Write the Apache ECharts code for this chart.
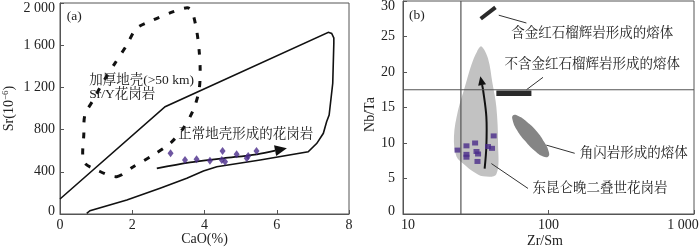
<!DOCTYPE html>
<html><head><meta charset="utf-8">
<script src="https://cdn.jsdelivr.net/npm/echarts@6/dist/echarts.min.js"></script>
<style>html,body{margin:0;padding:0;background:#fff}#c{width:700px;height:251px}</style>
</head><body><div id="c"></div>
<script>
// ---------- Panel (a): Sr vs CaO ----------
const caoTicks = [0, 2, 4, 6, 8];
const srTicks = [0, 400, 800, 1200, 1600, 2000];
const normalCrustOutline = [[0,142],[2.91,1017],[7.43,1722],[7.52,1711],[7.58,1668],[7.58,1618],[7.55,1239],[7.45,938],[7.38,875],[7.29,765],[7.11,670],[6.87,590],[5.54,512],[4.34,448],[3.97,408],[3.51,338],[2.77,244],[1.85,133],[0.83,31],[0.74,7]];
const thickCrustOutline = [[1.57,354],[2.03,448],[2.58,559],[3.05,670],[3.41,812],[3.69,986],[3.85,1175],[3.88,1365],[3.85,1555],[3.78,1744],[3.65,1925],[3.52,1955],[3.14,1918],[2.58,1839],[2.12,1760],[1.85,1602],[1.52,1428],[1.20,1254],[0.92,1081],[0.69,938],[0.66,765],[0.66,496],[1.02,417]];
const graniteA_CaO = [3.06,3.46,3.78,4.15,4.50,4.48,4.57,4.89,5.17,5.21,5.44];
const graniteA_Sr  = [575,512,518,505,597,512,496,566,528,550,597];
const trendA = [[2.68,433],[3.60,490],[4.52,528],[5.45,566],[6.28,623]];
const labelsA_text = ['(a)', '加厚地壳(>50 km)', 'Sr/Y花岗岩', '正常地壳形成的花岗岩'];
const labelsA_pos  = [[0.185,1870],[0.81,1270],[0.81,1135],[3.27,755]];

// ---------- Panel (b): Nb/Ta vs Zr/Sm ----------
const zrSmTicks = [10, 100, 1000];
const nbTaTicks = [0, 5, 10, 15, 20, 25, 30];
const refZrSm = 25;
const refNbTa = 17.5;
const eKunlunField = [[34.6,23.6],[38.4,21.9],[41.2,18.4],[43.8,15.1],[45.0,10.0],[43.8,5.6],[35.5,5.3],[30.3,6.0],[26.6,6.9],[23.3,8.1],[22.4,10.9],[23.9,14.6],[26.6,17.9],[29.5,21.0],[32.3,22.9]];
const amphiboliteField = [[99.7,8.1],[100.3,8.8],[93.7,10.1],[82.6,11.7],[70.9,13.0],[62.0,13.8],[57.1,13.9],[56.7,13.2],[60.8,11.8],[68.9,10.3],[80.3,8.9],[91.8,8.1]];
const rutileEclogiteBar = [[34.2,27.5],[43.2,29.1]];
const rutileFreeBar = [[43.8,17.0],[76.3,17.0]];
const graniteB_ZrSm = [23.7,27.3,31.3,27.3,27.3,32.0,32.8,32.5,38.4,40.9,42.0];
const graniteB_NbTa = [9.0,9.6,10.0,8.4,8.0,8.8,8.45,7.4,9.5,9.25,11.0];
const trendB = [[36.4,6.4],[37.4,9.5],[37.4,13.7],[35.5,17.5],[34.0,19.4]];
const leadersB = [[[45.5,28.0],[70.5,26.9]],[[70.5,17.5],[91.7,19.25]],[[96.7,9.7],[151.4,8.55]],[[40.5,7.1],[72.3,3.6]]];
const labelsB_text = ['(b)','含金红石榴辉岩形成的熔体','不含金红石榴辉岩形成的熔体','角闪岩形成的熔体','东昆仑晚二叠世花岗岩'];
const labelsB_pos  = [[11.0,28.0],[199.6,25.45],[199.6,21.1],[163.9,8.55],[77.5,3.6]];
const labelsB_align = ['left','center','center','left','left'];

const FONT = '"Liberation Serif","Noto Serif CJK SC","Noto Sans CJK SC",serif';
const AX = '#555';
const TXT = '#222';
const PURPLE = '#4a2c8a';

function sp(v){ return String(v).replace(/\B(?=(\d{3})+(?!\d))/g, ' '); }

function shapeItem(points, kind, style, smooth){
  return function(params, api){
    if (params.dataIndex !== 0) return null;
    const pts = points.map(p => api.coord(p));
    return { type: kind, shape: { points: pts, smooth: smooth || 0 }, style: style };
  };
}
function arrowItem(points, headLen, headW, lw){
  return function(params, api){
    if (params.dataIndex !== 0) return null;
    const pts = points.map(p => api.coord(p));
    const n = pts.length, tip = pts[n-1], prev = pts[n-2];
    let dx = tip[0]-prev[0], dy = tip[1]-prev[1];
    const L = Math.hypot(dx, dy); dx/=L; dy/=L;
    const base = [tip[0]-dx*headLen, tip[1]-dy*headLen];
    const px = -dy, py = dx;
    const body = pts.slice(0, n-1).concat([base]);
    return { type: 'group', children: [
      { type: 'polyline', shape: { points: body, smooth: 0.35 }, style: { fill: 'none', stroke: '#111', lineWidth: lw } },
      { type: 'polygon', shape: { points: [tip, [base[0]+px*headW/2, base[1]+py*headW/2], [base[0]-px*headW/2, base[1]-py*headW/2]] }, style: { fill: '#111' } }
    ]};
  };
}
function textItem(texts, aligns, size){
  return function(params, api){
    const c = api.coord([api.value(0), api.value(1)]);
    return { type: 'text', x: c[0], y: c[1], style: { text: texts[params.dataIndex], fontFamily: FONT, fontSize: size, fill: TXT, align: aligns ? aligns[params.dataIndex] : 'left', verticalAlign: 'middle' } };
  };
}
function segItem(segs, color, lw){
  return function(params, api){
    const s = segs[params.dataIndex];
    const a = api.coord(s[0]), b = api.coord(s[1]);
    return { type: 'line', shape: { x1: a[0], y1: a[1], x2: b[0], y2: b[1] }, style: { stroke: color, lineWidth: lw } };
  };
}

const axLabel = { fontFamily: FONT, fontSize: 14, color: TXT };
const chart = echarts.init(document.getElementById('c'));
chart.setOption({
  animation: false,
  grid: [
    { left: 60, top: 3, width: 289, height: 211, show: true, borderColor: AX, borderWidth: 1, containLabel: false, outerBoundsMode: 'none' },
    { left: 403, top: 1, width: 291, height: 213, show: true, borderColor: AX, borderWidth: 1, containLabel: false, outerBoundsMode: 'none' }
  ],
  xAxis: [
    { type: 'value', gridIndex: 0, min: caoTicks[0], max: caoTicks[caoTicks.length-1], interval: 2,
      axisLine: { lineStyle: { color: AX } }, axisTick: { inside: true, length: 4, lineStyle: { color: AX } },
      splitLine: { show: false }, axisLabel: Object.assign({ margin: 4 }, axLabel),
      name: 'CaO(%)', nameLocation: 'middle', nameGap: 18, nameMoveOverlap: false,
      nameTextStyle: { fontFamily: FONT, fontSize: 14, color: TXT, verticalAlign: 'top' } },
    { type: 'log', logBase: 10, gridIndex: 1, min: zrSmTicks[0], max: zrSmTicks[zrSmTicks.length-1],
      axisLine: { lineStyle: { color: AX } }, axisTick: { inside: true, length: 4, lineStyle: { color: AX } },
      minorTick: { show: false }, splitLine: { show: false },
      axisLabel: Object.assign({ margin: 4,
        formatter: v => v === 10 ? '{l|10}' : (v === 1000 ? '{r|1 000}' : sp(v)),
        rich: { l: { padding: [0,0,0,10] }, r: { padding: [0,22,0,0] } } }, axLabel),
      name: 'Zr/Sm', nameLocation: 'middle', nameGap: 20, nameMoveOverlap: false,
      nameTextStyle: { fontFamily: FONT, fontSize: 14, color: TXT, verticalAlign: 'top', padding: [0,7,0,0] } }
  ],
  yAxis: [
    { type: 'value', gridIndex: 0, min: srTicks[0], max: srTicks[srTicks.length-1], interval: 400,
      axisLine: { lineStyle: { color: AX } }, axisTick: { inside: true, length: 4, lineStyle: { color: AX } },
      splitLine: { show: false },
      axisLabel: Object.assign({ margin: 5,
        formatter: v => v === 2000 ? '{t|2 000}' : (v === 0 ? '{b|0}' : sp(v)),
        rich: { t: { padding: [10,0,0,0] }, b: { padding: [0,0,6,0] } } }, axLabel),
      name: 'Sr(10{s|−6})', nameLocation: 'middle', nameGap: 43, nameRotate: 90, nameMoveOverlap: false,
      nameTextStyle: { fontFamily: FONT, fontSize: 14, color: TXT, rich: { s: { fontSize: 9, padding: [0,0,7,0] } } } },
    { type: 'value', gridIndex: 1, min: nbTaTicks[0], max: nbTaTicks[nbTaTicks.length-1], interval: 5,
      axisLine: { lineStyle: { color: AX } }, axisTick: { inside: true, length: 4, lineStyle: { color: AX } },
      splitLine: { show: false },
      axisLabel: Object.assign({ margin: 8,
        formatter: v => v === 30 ? '{t|30}' : (v === 0 ? '{b|0}' : String(v)),
        rich: { t: { padding: [11,0,0,0] }, b: { padding: [0,0,6,0] } } }, axLabel),
      name: 'Nb/Ta', nameLocation: 'middle', nameGap: 26, nameRotate: 90, nameMoveOverlap: false,
      nameTextStyle: { fontFamily: FONT, fontSize: 14, color: TXT, padding: [0,14,0,0] } }
  ],
  series: [
    // ----- panel a -----
    { type: 'custom', xAxisIndex: 0, yAxisIndex: 0, data: normalCrustOutline, silent: true,
      renderItem: shapeItem(normalCrustOutline, 'polyline', { fill: 'none', stroke: '#111', lineWidth: 1.6 }, 0) },
    { type: 'custom', xAxisIndex: 0, yAxisIndex: 0, data: thickCrustOutline, silent: true,
      renderItem: shapeItem(thickCrustOutline, 'polygon', { fill: 'none', stroke: '#111', lineWidth: 3, lineDash: [6, 10] }, 0.3) },
    { type: 'scatter', xAxisIndex: 0, yAxisIndex: 0, symbol: 'diamond', symbolSize: [6, 8],
      itemStyle: { color: PURPLE }, data: graniteA_CaO.map((x, i) => [x, graniteA_Sr[i]]) },
    { type: 'custom', xAxisIndex: 0, yAxisIndex: 0, data: trendA, silent: true,
      renderItem: arrowItem(trendA, 12, 11, 1.8) },
    { type: 'custom', xAxisIndex: 0, yAxisIndex: 0, data: labelsA_pos, silent: true,
      renderItem: textItem(labelsA_text, null, 13.5) },
    // ----- panel b -----
    { type: 'line', xAxisIndex: 1, yAxisIndex: 1, symbol: 'none', silent: true,
      lineStyle: { color: AX, width: 1.2 }, data: [[refZrSm, nbTaTicks[0]], [refZrSm, nbTaTicks[nbTaTicks.length-1]]] },
    { type: 'line', xAxisIndex: 1, yAxisIndex: 1, symbol: 'none', silent: true,
      lineStyle: { color: AX, width: 1.2 }, data: [[zrSmTicks[0], refNbTa], [zrSmTicks[zrSmTicks.length-1], refNbTa]] },
    { type: 'custom', xAxisIndex: 1, yAxisIndex: 1, data: eKunlunField, silent: true,
      renderItem: shapeItem(eKunlunField, 'polygon', { fill: '#c2c2c2', stroke: 'none' }, 0.35) },
    { type: 'custom', xAxisIndex: 1, yAxisIndex: 1, data: amphiboliteField, silent: true,
      renderItem: shapeItem(amphiboliteField, 'polygon', { fill: '#858585', stroke: 'none' }, 0.5) },
    { type: 'custom', xAxisIndex: 1, yAxisIndex: 1, data: [rutileEclogiteBar], silent: true,
      renderItem: segItem([rutileEclogiteBar], '#2a2a2a', 4) },
    { type: 'custom', xAxisIndex: 1, yAxisIndex: 1, data: [rutileFreeBar], silent: true,
      renderItem: segItem([rutileFreeBar], '#2a2a2a', 5.5) },
    { type: 'custom', xAxisIndex: 1, yAxisIndex: 1, data: leadersB, silent: true,
      renderItem: segItem(leadersB, '#333', 1) },
    { type: 'scatter', xAxisIndex: 1, yAxisIndex: 1, symbol: 'rect', symbolSize: [6, 5],
      itemStyle: { color: PURPLE }, data: graniteB_ZrSm.map((x, i) => [x, graniteB_NbTa[i]]) },
    { type: 'custom', xAxisIndex: 1, yAxisIndex: 1, data: trendB, silent: true,
      renderItem: arrowItem(trendB, 9, 8, 2) },
    { type: 'custom', xAxisIndex: 1, yAxisIndex: 1, data: labelsB_pos, silent: true,
      renderItem: textItem(labelsB_text, labelsB_align, 13.5) }
  ]
});
</script></body></html>
